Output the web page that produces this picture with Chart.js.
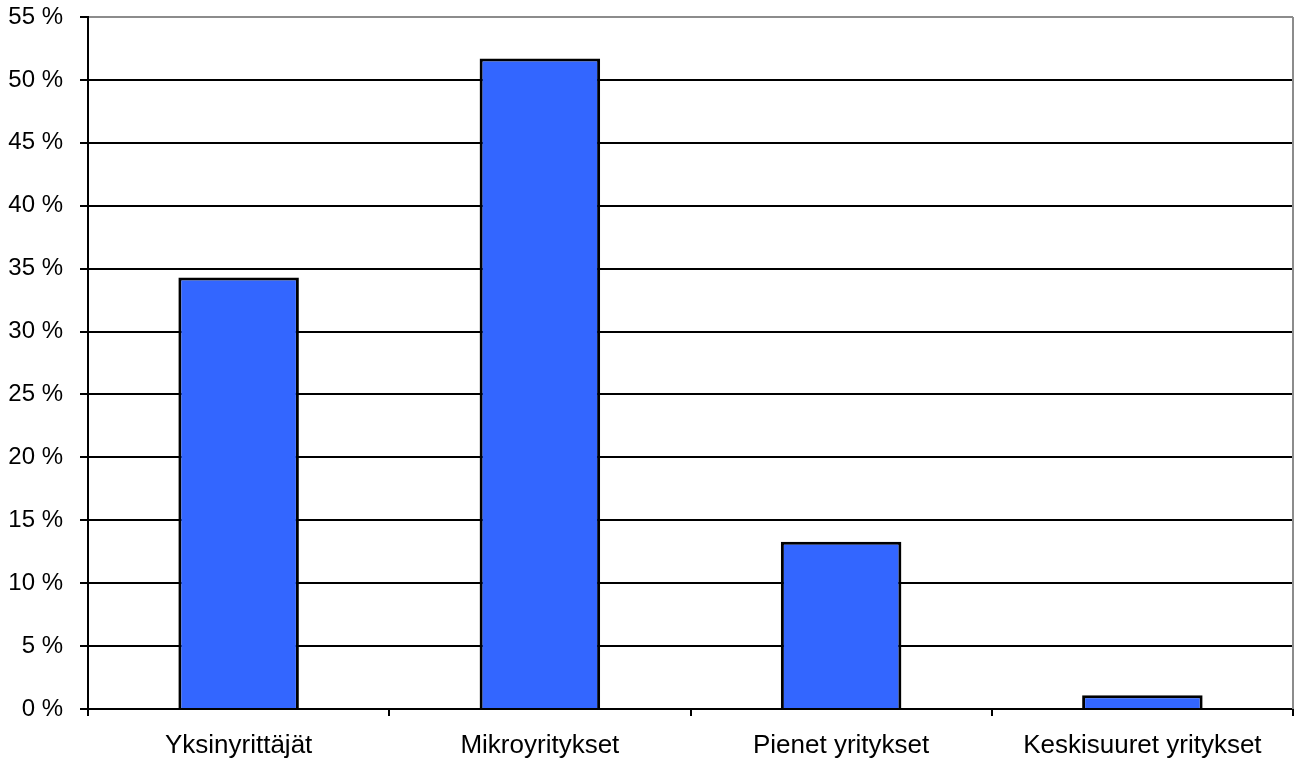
<!DOCTYPE html>
<html>
<head>
<meta charset="utf-8">
<script src="https://cdn.jsdelivr.net/npm/chart.js@4"></script>
<style>
html,body{margin:0;padding:0;background:#fff;}
#wrap{width:1296px;height:760px;position:relative;}
</style>
</head>
<body>
<div id="wrap"><canvas id="c"></canvas></div>
<script>
const categories = ['Yksinyrittäjät', 'Mikroyritykset', 'Pienet yritykset', 'Keskisuuret yritykset'];
const shares = [34.3, 51.7, 13.3, 1.1];
const yTicks = [0, 5, 10, 15, 20, 25, 30, 35, 40, 45, 50, 55];

const FONT_FAMILY = '"Liberation Sans", Arial, sans-serif';

const rightBorder = {
  id: 'rightBorder',
  afterDraw(chart) {
    const a = chart.chartArea, ctx = chart.ctx;
    ctx.save();
    ctx.strokeStyle = '#8c8c8c';
    ctx.lineWidth = 2;
    ctx.beginPath();
    ctx.moveTo(a.right, a.top);
    ctx.lineTo(a.right, a.bottom);
    ctx.stroke();
    ctx.restore();
  }
};

new Chart(document.getElementById('c'), {
  type: 'bar',
  data: {
    labels: categories,
    datasets: [{
      data: shares,
      backgroundColor: '#3366FF',
      borderColor: '#000000',
      borderWidth: 3,
      barPercentage: 0.4,
      categoryPercentage: 1.0
    }]
  },
  options: {
    responsive: true,
    maintainAspectRatio: false,
    animation: false,
    devicePixelRatio: 1,
    layout: {padding: {top: 17, right: 3, left: 0, bottom: 0}},
    plugins: {legend: {display: false}, tooltip: {enabled: false}},
    scales: {
      x: {
        grid: {display: true, drawOnChartArea: false, drawTicks: true, tickLength: 7, tickColor: '#000', lineWidth: 2, offset: true},
        border: {display: true, color: '#000', width: 2},
        ticks: {color: '#000', font: {family: FONT_FAMILY, size: 26}, padding: 14, maxRotation: 0, autoSkip: false},
        afterFit(s) { s.height = 51; s.paddingLeft = 0; s.paddingRight = 0; }
      },
      y: {
        min: 0, max: 55,
        afterBuildTicks(s) { s.ticks = yTicks.map(v => ({value: v})); },
        grid: {
          color: c => (c.tick && c.tick.value === 55) ? '#8c8c8c' : '#000',
          lineWidth: 2, drawTicks: true, tickLength: 8, tickColor: '#000'
        },
        border: {display: true, color: '#000', width: 2},
        ticks: {color: '#000', font: {family: FONT_FAMILY, size: 24}, padding: 17, callback: v => v + ' %'},
        afterFit(s) { s.width = 88; s.paddingTop = 0; s.paddingBottom = 0; }
      }
    }
  },
  plugins: [rightBorder]
});
</script>
</body>
</html>
